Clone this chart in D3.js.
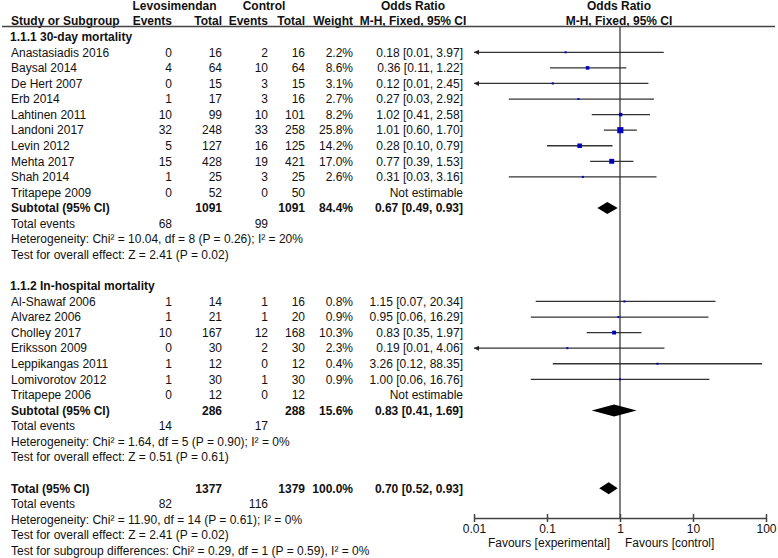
<!DOCTYPE html>
<html>
<head>
<meta charset="utf-8">
<script src="https://cdn.jsdelivr.net/npm/d3@7"></script>
<style>
  html, body { margin: 0; padding: 0; background: #fff; }
  svg { display: block; font-family: "Liberation Sans", Arial, sans-serif; font-size: 12px; }
</style>
</head>
<body>
<svg id="chart" width="778" height="558"></svg>
<script>
// ---------- data ----------
const sec1Title = "1.1.1 30-day mortality";
const sec1Names = ["Anastasiadis 2016","Baysal 2014","De Hert 2007","Erb 2014","Lahtinen 2011","Landoni 2017","Levin 2012","Mehta 2017","Shah 2014","Tritapepe 2009"];
const sec1LevoEvents = [0,4,0,1,10,32,5,15,1,0];
const sec1LevoTotal  = [16,64,15,17,99,248,127,428,25,52];
const sec1CtrlEvents = [2,10,3,3,10,33,16,19,3,0];
const sec1CtrlTotal  = [16,64,15,16,101,258,125,421,25,50];
const sec1Weight = [2.2,8.6,3.1,2.7,8.2,25.8,14.2,17.0,2.6,null];
const sec1OR = [0.18,0.36,0.12,0.27,1.02,1.01,0.28,0.77,0.31,null];
const sec1Lo = [0.01,0.11,0.01,0.03,0.41,0.60,0.10,0.39,0.03,null];
const sec1Hi = [3.97,1.22,2.45,2.92,2.58,1.70,0.79,1.53,3.16,null];
const sec1Sub = {levoTotal:1091, ctrlTotal:1091, weight:84.4, or:0.67, lo:0.49, hi:0.93, levoEvents:68, ctrlEvents:99};
const sec1Het = "Heterogeneity: Chi\u00B2 = 10.04, df = 8 (P = 0.26); I\u00B2 = 20%";
const sec1Test = "Test for overall effect: Z = 2.41 (P = 0.02)";

const sec2Title = "1.1.2 In-hospital mortality";
const sec2Names = ["Al-Shawaf 2006","Alvarez 2006","Cholley 2017","Eriksson 2009","Leppikangas 2011","Lomivorotov 2012","Tritapepe 2006"];
const sec2LevoEvents = [1,1,10,0,1,1,0];
const sec2LevoTotal  = [14,21,167,30,12,30,12];
const sec2CtrlEvents = [1,1,12,2,0,1,0];
const sec2CtrlTotal  = [16,20,168,30,12,30,12];
const sec2Weight = [0.8,0.9,10.3,2.3,0.4,0.9,null];
const sec2OR = [1.15,0.95,0.83,0.19,3.26,1.00,null];
const sec2Lo = [0.07,0.06,0.35,0.01,0.12,0.06,null];
const sec2Hi = [20.34,16.29,1.97,4.06,88.35,16.76,null];
const sec2Sub = {levoTotal:286, ctrlTotal:288, weight:15.6, or:0.83, lo:0.41, hi:1.69, levoEvents:14, ctrlEvents:17};
const sec2Het = "Heterogeneity: Chi\u00B2 = 1.64, df = 5 (P = 0.90); I\u00B2 = 0%";
const sec2Test = "Test for overall effect: Z = 0.51 (P = 0.61)";

const overall = {levoTotal:1377, ctrlTotal:1379, weight:100.0, or:0.70, lo:0.52, hi:0.93, levoEvents:82, ctrlEvents:116};
const overallHet = "Heterogeneity: Chi\u00B2 = 11.90, df = 14 (P = 0.61); I\u00B2 = 0%";
const overallTest = "Test for overall effect: Z = 2.41 (P = 0.02)";
const subgroupTest = "Test for subgroup differences: Chi\u00B2 = 0.29, df = 1 (P = 0.59), I\u00B2 = 0%";

const axisTicks = [0.01, 0.1, 1, 10, 100];
const axisTickLabels = ["0.01", "0.1", "1", "10", "100"];

// ---------- layout ----------
const svg = d3.select("#chart");
const row = d3.scaleLinear().domain([0, 35]).range([5.6, 550.6]);
const x = d3.scaleLog().domain([0.01, 100]).range([474, 766]);
const col = {name: 11, levoEv: 172, levoTot: 222, ctrlEv: 268, ctrlTot: 305, weight: 353, orText: 463};
const axisY = 518, ruleY = 26.5;
const textColor = "#111";
const markerColor = "#0000c0";

function txt(xp, yp, s, anchor, bold) {
  return svg.append("text")
    .attr("x", xp).attr("y", yp).attr("dy", "0.35em")
    .attr("text-anchor", anchor || "start")
    .attr("font-weight", bold ? "bold" : "normal")
    .attr("fill", textColor)
    .text(s);
}
const fmtOR = (o, l, h) => `${o.toFixed(2)} [${l.toFixed(2)}, ${h.toFixed(2)}]`;
const fmtW = w => w.toFixed(1) + "%";

// headers
txt(174.5, row(0), "Levosimendan", "middle", true);
txt(264, row(0), "Control", "middle", true);
txt(413, row(0), "Odds Ratio", "middle", true);
txt(619, row(0), "Odds Ratio", "middle", true);
txt(col.name, row(1), "Study or Subgroup", "start", true);
txt(col.levoEv, row(1), "Events", "end", true);
txt(col.levoTot, row(1), "Total", "end", true);
txt(col.ctrlEv, row(1), "Events", "end", true);
txt(col.ctrlTot, row(1), "Total", "end", true);
txt(col.weight, row(1), "Weight", "end", true);
txt(413, row(1), "M-H, Fixed, 95% CI", "middle", true);
txt(619, row(1), "M-H, Fixed, 95% CI", "middle", true);

// rule and null line
svg.append("line").attr("x1", 2).attr("x2", 775).attr("y1", ruleY).attr("y2", ruleY)
  .attr("stroke", "#444").attr("stroke-width", 1.5);
svg.append("line").attr("x1", x(1)).attr("x2", x(1)).attr("y1", ruleY).attr("y2", axisY)
  .attr("stroke", "#555").attr("stroke-width", 1.5);

function drawStudies(startRow, names, le, lt, ce, ct, w, or, lo, hi) {
  names.forEach((n, i) => {
    const y = row(startRow + i);
    txt(col.name, y, n);
    txt(col.levoEv, y, le[i], "end");
    txt(col.levoTot, y, lt[i], "end");
    txt(col.ctrlEv, y, ce[i], "end");
    txt(col.ctrlTot, y, ct[i], "end");
    if (or[i] == null) {
      txt(col.orText, y, "Not estimable", "end");
      return;
    }
    txt(col.weight, y, fmtW(w[i]), "end");
    txt(col.orText, y, fmtOR(or[i], lo[i], hi[i]), "end");
    const clipLo = lo[i] <= 0.01;
    const x1 = x(Math.max(lo[i], 0.01)), x2 = x(Math.min(hi[i], 100));
    svg.append("line").attr("x1", x1).attr("x2", x2).attr("y1", y).attr("y2", y)
      .attr("stroke", "#333").attr("stroke-width", 1.3);
    if (clipLo) {
      svg.append("path")
        .attr("d", `M${x1},${y}L${x1 + 5},${y - 2.5}L${x1 + 5},${y + 2.5}Z`)
        .attr("fill", "#222");
    }
    const s = Math.max(2, 1.2 * Math.sqrt(w[i]));
    svg.append("rect").attr("x", x(or[i]) - s / 2).attr("y", y - s / 2)
      .attr("width", s).attr("height", s).attr("fill", markerColor);
  });
}

function drawSummary(r, label, d) {
  const y = row(r);
  txt(col.name, y, label, "start", true);
  txt(col.levoTot, y, d.levoTotal, "end", true);
  txt(col.ctrlTot, y, d.ctrlTotal, "end", true);
  txt(col.weight, y, fmtW(d.weight), "end", true);
  txt(col.orText, y, fmtOR(d.or, d.lo, d.hi), "end", true);
  const h = 6;
  svg.append("path")
    .attr("d", `M${x(d.lo)},${y}L${x(d.or)},${y - h}L${x(d.hi)},${y}L${x(d.or)},${y + h}Z`)
    .attr("fill", "#000");
}

function drawEvents(r, d) {
  const y = row(r);
  txt(col.name, y, "Total events");
  txt(col.levoEv, y, d.levoEvents, "end");
  txt(col.ctrlEv, y, d.ctrlEvents, "end");
}

// section 1
txt(col.name - 1, row(2), sec1Title, "start", true);
drawStudies(3, sec1Names, sec1LevoEvents, sec1LevoTotal, sec1CtrlEvents, sec1CtrlTotal, sec1Weight, sec1OR, sec1Lo, sec1Hi);
drawSummary(13, "Subtotal (95% CI)", sec1Sub);
drawEvents(14, sec1Sub);
txt(col.name, row(15), sec1Het);
txt(col.name, row(16), sec1Test);

// section 2
txt(col.name - 1, row(18), sec2Title, "start", true);
drawStudies(19, sec2Names, sec2LevoEvents, sec2LevoTotal, sec2CtrlEvents, sec2CtrlTotal, sec2Weight, sec2OR, sec2Lo, sec2Hi);
drawSummary(26, "Subtotal (95% CI)", sec2Sub);
drawEvents(27, sec2Sub);
txt(col.name, row(28), sec2Het);
txt(col.name, row(29), sec2Test);

// overall
drawSummary(31, "Total (95% CI)", overall);
drawEvents(32, overall);
txt(col.name, row(33), overallHet);
txt(col.name, row(34), overallTest);
txt(col.name, row(35), subgroupTest);

// axis
const axis = d3.axisBottom(x)
  .tickValues(axisTicks)
  .tickFormat((d, i) => axisTickLabels[i])
  .tickSizeInner(4).tickSizeOuter(0).tickPadding(2);
const g = svg.append("g").attr("transform", `translate(0,${axisY})`).call(axis);
g.select(".domain").attr("stroke", "#444").attr("stroke-width", 1.5);
g.selectAll(".tick line").attr("y1", -4).attr("y2", 4).attr("stroke", "#444").attr("stroke-width", 1.5);
g.selectAll(".tick text").attr("font-size", 12).attr("font-family", "Liberation Sans, Arial, sans-serif").attr("fill", textColor);

txt(610, 543, "Favours [experimental]", "end");
txt(625, 543, "Favours [control]", "start");
</script>
</body>
</html>
